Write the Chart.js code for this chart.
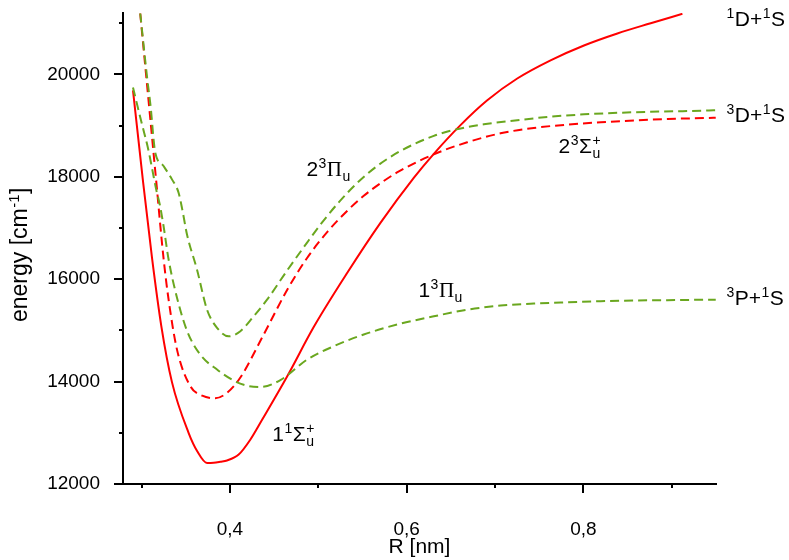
<!DOCTYPE html>
<html>
<head>
<meta charset="utf-8">
<script src="https://cdn.jsdelivr.net/npm/chart.js@4.4.1/dist/chart.umd.min.js"></script>
<style>
  html, body { margin: 0; padding: 0; background: #fff; }
  #wrap { width: 789px; height: 560px; }
</style>
</head>
<body>
<div id="wrap"><canvas id="pec" width="789" height="560"></canvas></div>
<script>
/* global Chart */
(function () {
  'use strict';

  // 1¹Σu+ (solid red)
  const sigma11R = [0.2903, 0.3014, 0.3118, 0.3223, 0.3344, 0.3532, 0.3630, 0.3741, 0.3816, 0.3891, 0.3967, 0.4099, 0.4230, 0.4364, 0.4647, 0.4948, 0.5326, 0.5703, 0.6080, 0.6307, 0.6609, 0.6912, 0.7251, 0.7628, 0.8006, 0.8384, 0.8761, 0.9120];
  const sigma11E = [19690, 17950, 16420, 15090, 13990, 13000, 12640, 12410, 12415, 12435, 12460, 12575, 12865, 13255, 14100, 15065, 16120, 17100, 17980, 18450, 19010, 19495, 19920, 20275, 20565, 20800, 21000, 21185];

  // 2³Σu+ (dashed red)
  const sigma23R = [0.2985, 0.3078, 0.3164, 0.3248, 0.3306, 0.3401, 0.3552, 0.3687, 0.3834, 0.3967, 0.4118, 0.4382, 0.4647, 0.4873, 0.5100, 0.5341, 0.5511, 0.5737, 0.5907, 0.6307, 0.6685, 0.7062, 0.7439, 0.7818, 0.8195, 0.8572, 0.8950, 0.9421, 0.9497];
  const sigma23E = [21190, 19510, 17950, 16420, 15600, 14625, 13910, 13725, 13675, 13780, 14080, 14920, 15790, 16415, 16920, 17360, 17625, 17915, 18100, 18440, 18675, 18850, 18955, 19020, 19065, 19100, 19130, 19150, 19155];

  // 2³Πu (dashed green, upper)
  const pi23R = [0.2985, 0.3061, 0.3106, 0.3136, 0.3155, 0.3249, 0.3344, 0.3419, 0.3461, 0.3514, 0.3627, 0.3741, 0.3854, 0.3985, 0.4118, 0.4268, 0.4420, 0.4647, 0.4873, 0.5041, 0.5228, 0.5443, 0.5669, 0.5930, 0.6307, 0.6533, 0.6873, 0.7251, 0.7628, 0.8006, 0.8384, 0.8761, 0.9421, 0.9497];
  const pi23E = [21190, 19965, 19315, 18730, 18470, 18210, 17950, 17690, 17360, 16875, 16190, 15405, 15050, 14885, 14985, 15275, 15600, 16170, 16715, 17105, 17495, 17885, 18215, 18505, 18800, 18915, 19025, 19105, 19175, 19220, 19250, 19270, 19295, 19300];

  // 1³Πu (dashed green, lower)
  const pi13R = [0.2903, 0.2997, 0.3076, 0.3121, 0.3166, 0.3206, 0.3246, 0.3306, 0.3401, 0.3514, 0.3665, 0.3854, 0.4042, 0.4194, 0.4344, 0.4571, 0.4873, 0.5174, 0.5514, 0.5892, 0.6307, 0.6685, 0.7062, 0.7439, 0.7818, 0.8195, 0.8572, 0.8950, 0.9421, 0.9497];
  const pi13E = [19745, 19080, 18535, 18145, 17750, 17460, 17070, 16385, 15640, 14995, 14525, 14235, 14020, 13920, 13895, 14030, 14430, 14690, 14920, 15115, 15275, 15405, 15485, 15525, 15550, 15570, 15585, 15590, 15600, 15600];

  const xMajorTicks = [0.4, 0.6, 0.8];
  const xMinorTicks = [0.3, 0.5, 0.7, 0.9];
  const yMajorTicks = [12000, 14000, 16000, 18000, 20000];
  const yMinorTicks = [13000, 15000, 17000, 19000, 21000];

  const xTitle = 'R [nm]';
  const yTitle = [['energy [cm', 'n'], ['-1', 'sup'], [']', 'n']];

  // state labels: [R, energy, parts]
  const curveLabels = [
    [0.4865, 18010, [['2', 'n'], ['3', 'sup'], ['Π', 'greek'], ['u', 'sub']]],
    [0.6133, 15660, [['1', 'n'], ['3', 'sup'], ['Π', 'greek'], ['u', 'sub']]],
    [0.7719, 18475, [['2', 'n'], ['3', 'sup'], ['Σ', 'n'], ['u', 'subsup', '+']]],
    [0.4480, 12845, [['1', 'n'], ['1', 'sup'], ['Σ', 'n'], ['u', 'subsup', '+']]]
  ];
  const limitLabels = [
    [20940, [['1', 'sup'], ['D+', 'n'], ['1', 'sup'], ['S', 'n']]],
    [19080, [['3', 'sup'], ['D+', 'n'], ['1', 'sup'], ['S', 'n']]],
    [15505, [['3', 'sup'], ['P+', 'n'], ['1', 'sup'], ['S', 'n']]]
  ];

  const RED = '#ff0000';
  const GREEN = '#6aa71f';
  const FAMILY = "'Liberation Sans', Arial, Helvetica, sans-serif";
  const BASE = 21;
  const SMALL = 14;

  function pts(xs, ys) {
    return xs.map(function (x, i) {
      return { x: x, y: ys[i] };
    });
  }

  function drawRich(ctx, x, y, parts, base, small) {
    base = base || BASE;
    small = small || SMALL;
    let cx = x;
    ctx.textBaseline = 'alphabetic';
    ctx.textAlign = 'left';
    parts.forEach(function (p) {
      const txt = p[0];
      const mode = p[1];
      if (mode === 'n') {
        ctx.font = base + 'px ' + FAMILY;
        ctx.fillText(txt, cx, y);
        cx += ctx.measureText(txt).width;
      } else if (mode === 'greek') {
        ctx.font = base + "px 'Liberation Serif', 'Times New Roman', serif";
        ctx.fillText(txt, cx, y);
        cx += ctx.measureText(txt).width;
      } else if (mode === 'sup') {
        ctx.font = small + 'px ' + FAMILY;
        ctx.fillText(txt, cx + 0.5, y - 8);
        cx += ctx.measureText(txt).width + 1;
      } else if (mode === 'sub') {
        ctx.font = small + 'px ' + FAMILY;
        ctx.fillText(txt, cx + 0.5, y + 5);
        cx += ctx.measureText(txt).width + 1;
      } else if (mode === 'subsup') {
        ctx.font = small + 'px ' + FAMILY;
        ctx.fillText(txt, cx + 0.5, y + 5);
        ctx.fillText(p[2], cx + 0.5, y - 8);
        cx += Math.max(ctx.measureText(txt).width, ctx.measureText(p[2]).width) + 1;
      }
    });
    return cx - x;
  }

  const decorPlugin = {
    id: 'decor',
    afterDraw: function (chart) {
      const ctx = chart.ctx;
      const xs = chart.scales.x;
      const ys = chart.scales.y;
      const area = chart.chartArea;
      ctx.save();
      ctx.strokeStyle = '#000';
      ctx.lineWidth = 2;
      ctx.beginPath();
      xMajorTicks.forEach(function (v) {
        const px = Math.round(xs.getPixelForValue(v));
        ctx.moveTo(px, area.bottom); ctx.lineTo(px, area.bottom + 9);
      });
      xMinorTicks.forEach(function (v) {
        const px = Math.round(xs.getPixelForValue(v));
        ctx.moveTo(px, area.bottom); ctx.lineTo(px, area.bottom + 4);
      });
      yMajorTicks.forEach(function (v) {
        const py = Math.round(ys.getPixelForValue(v));
        ctx.moveTo(area.left, py); ctx.lineTo(area.left - 9, py);
      });
      yMinorTicks.forEach(function (v) {
        const py = Math.round(ys.getPixelForValue(v));
        ctx.moveTo(area.left, py); ctx.lineTo(area.left - 4, py);
      });
      ctx.stroke();

      ctx.fillStyle = '#000';
      curveLabels.forEach(function (l) {
        drawRich(ctx, xs.getPixelForValue(l[0]), ys.getPixelForValue(l[1]), l[2]);
      });
      limitLabels.forEach(function (l) {
        drawRich(ctx, area.right + 10, ys.getPixelForValue(l[0]), l[1]);
      });

      ctx.font = BASE + 'px ' + FAMILY;
      ctx.textAlign = 'center';
      ctx.textBaseline = 'alphabetic';
      ctx.fillText(xTitle, (area.left + area.right) / 2, 553);

      ctx.save();
      ctx.translate(27, 255);
      ctx.rotate(-Math.PI / 2);
      ctx.font = '23px ' + FAMILY;
      const w = ctx.measureText('energy [cm').width + ctx.measureText(']').width + 14;
      drawRich(ctx, -w / 2, 0, yTitle, 23, 15);
      ctx.restore();
      ctx.restore();
    }
  };

  function lineSet(label, xs, ys, color, dashed) {
    return {
      label: label,
      data: pts(xs, ys),
      borderColor: color,
      borderWidth: 2,
      borderDash: dashed ? [9, 5] : [],
      pointRadius: 0,
      fill: false,
      cubicInterpolationMode: 'monotone'
    };
  }

  new Chart(document.getElementById('pec').getContext('2d'), {
    type: 'line',
    data: {
      datasets: [
        lineSet('2³Πu', pi23R, pi23E, GREEN, true),
        lineSet('1³Πu', pi13R, pi13E, GREEN, true),
        lineSet('2³Σu+', sigma23R, sigma23E, RED, true),
        lineSet('1¹Σu+', sigma11R, sigma11E, RED, false)
      ]
    },
    options: {
      responsive: false,
      animation: false,
      devicePixelRatio: 1,
      layout: { padding: { left: 0, right: 73, top: 13, bottom: 0 } },
      plugins: {
        legend: { display: false },
        tooltip: { enabled: false }
      },
      scales: {
        x: {
          type: 'linear',
          min: 0.279,
          max: 0.950,
          grid: { display: false },
          border: { display: true, color: '#000', width: 2 },
          afterBuildTicks: function (s) {
            s.ticks = xMajorTicks.map(function (v) { return { value: v }; });
          },
          afterFit: function (s) {
            s.height = 76;
            s.paddingLeft = 0;
            s.paddingRight = 0;
          },
          ticks: {
            color: '#000',
            padding: 26,
            maxRotation: 0,
            font: { family: FAMILY, size: 19 },
            callback: function (v) { return Number(v).toFixed(1).replace('.', ','); }
          }
        },
        y: {
          min: 12000,
          max: 21200,
          grid: { display: false },
          border: { display: true, color: '#000', width: 2 },
          afterBuildTicks: function (s) {
            s.ticks = yMajorTicks.map(function (v) { return { value: v }; });
          },
          afterFit: function (s) {
            s.width = 123;
            s.paddingTop = 0;
            s.paddingBottom = 0;
          },
          ticks: {
            color: '#000',
            padding: 15,
            font: { family: FAMILY, size: 19 },
            callback: function (v) { return String(v); }
          }
        }
      }
    },
    plugins: [decorPlugin]
  });
})();
</script>
</body>
</html>
